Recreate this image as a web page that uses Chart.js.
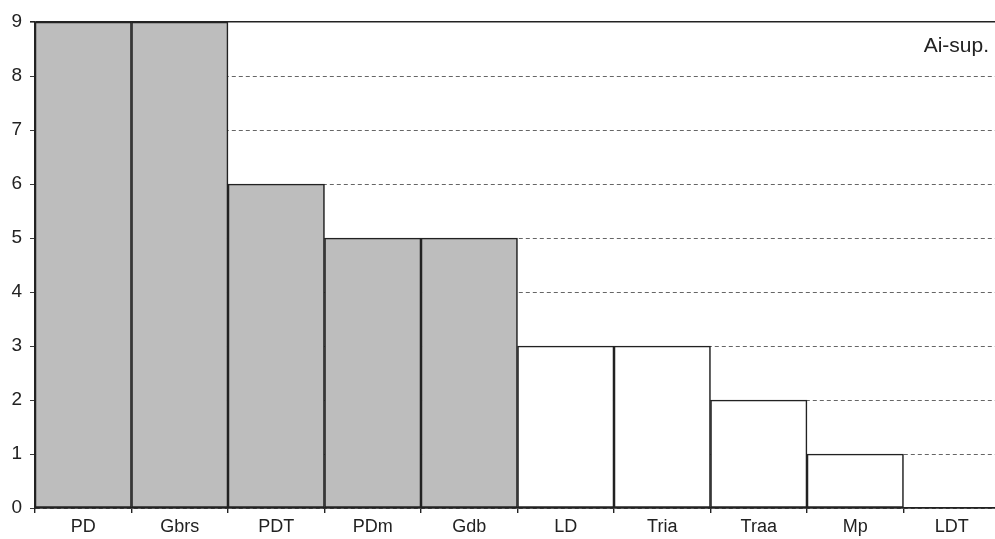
<!DOCTYPE html>
<html>
<head>
<meta charset="utf-8">
<script src="https://cdn.jsdelivr.net/npm/chart.js@4/dist/chart.umd.min.js"></script>
<style>
  html, body { margin: 0; padding: 0; background: #fff; overflow: hidden; }
  /* the plot runs a few pixels past the right edge of the picture */
  #wrap { width: 1000px; height: 539px; }
</style>
</head>
<body>
<div id="wrap"><canvas id="chart"></canvas></div>
<script>
// Data
const categories = ['PD', 'Gbrs', 'PDT', 'PDm', 'Gdb', 'LD', 'Tria', 'Traa', 'Mp', 'LDT'];
const counts = [9, 9, 6, 5, 5, 3, 3, 2, 1, 0];
const shaded = [true, true, true, true, true, false, false, false, false, false];
const yTicks = [0, 1, 2, 3, 4, 5, 6, 7, 8, 9];
const panelLabel = 'Ai-sup.';

const ink = '#222';
const fontFamily = "'Liberation Sans', Arial, sans-serif";

// Panel label in the top right corner
const panelLabelPlugin = {
    id: 'panelLabel',
    afterDraw(chart) {
        const { ctx, chartArea } = chart;
        ctx.save();
        ctx.font = '21px ' + fontFamily;
        ctx.fillStyle = ink;
        ctx.textAlign = 'right';
        ctx.textBaseline = 'middle';
        ctx.fillText(panelLabel, chartArea.right - 11, chartArea.top + 24);
        ctx.restore();
    }
};

const ctx = document.getElementById('chart').getContext('2d');
const chart = new Chart(ctx, {
    type: 'bar',
    data: {
        labels: categories,
        datasets: [{
            data: counts,
            backgroundColor: shaded.map(s => s ? '#bdbdbd' : '#ffffff'),
            borderColor: ink,
            borderWidth: 1.6,
            borderSkipped: false,
            categoryPercentage: 1,
            barPercentage: 1
        }]
    },
    options: {
        responsive: true,
        maintainAspectRatio: false,
        animation: false,
        layout: {
            padding: { top: 22, right: 0, left: 0, bottom: 0 }
        },
        scales: {
            x: {
                offset: true,
                afterFit(axis) { axis.height = 31; },
                grid: {
                    offset: true,
                    drawOnChartArea: false,
                    drawTicks: true,
                    tickLength: 5,
                    color: ink,
                    lineWidth: 1.4
                },
                border: {
                    display: true,
                    color: ink,
                    width: 1.8
                },
                ticks: {
                    color: ink,
                    padding: 3,
                    font: { family: fontFamily, size: 18 }
                }
            },
            y: {
                min: 0,
                max: 9,
                afterFit(axis) { axis.width = 35; },
                afterBuildTicks(axis) {
                    axis.ticks = yTicks.map(v => ({ value: v }));
                },
                grid: {
                    color: c => (c.tick && (c.tick.value === 9)) ? ink : '#555',
                    lineWidth: c => (c.tick && (c.tick.value === 9)) ? 1.6 : 0.9,
                    drawTicks: true,
                    tickLength: 5,
                    tickColor: ink
                },
                border: {
                    display: true,
                    color: ink,
                    width: 1.8,
                    dash: c => (c.tick && c.tick.value === 9) ? [] : [4, 3]
                },
                ticks: {
                    color: ink,
                    padding: 8,
                    font: { family: fontFamily, size: 19 }
                }
            }
        },
        plugins: {
            legend: { display: false },
            tooltip: { enabled: false }
        }
    },
    plugins: [panelLabelPlugin]
});
</script>
</body>
</html>
